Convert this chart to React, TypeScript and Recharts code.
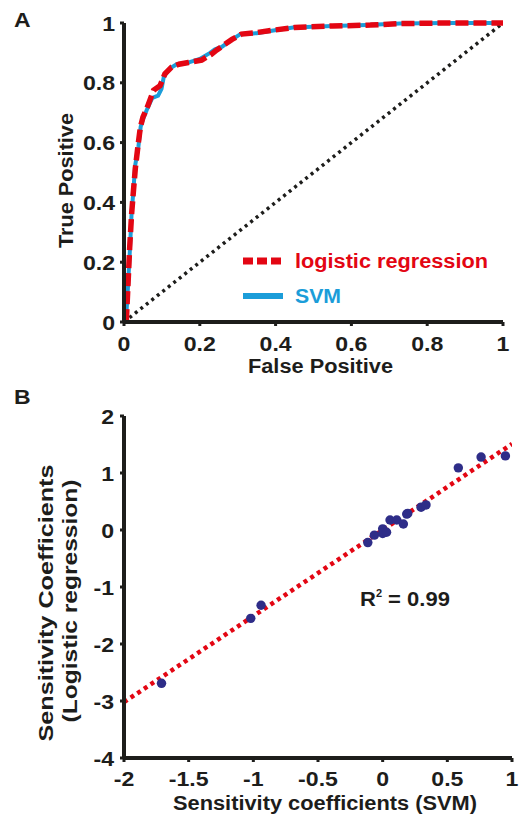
import React from 'react';
import {
  LineChart,
  Line,
  ComposedChart,
  Scatter,
  XAxis,
  YAxis,
  ZAxis,
  Legend,
  Label,
} from 'recharts';

// ROC curves (panel A)
const svmFpr = [0.005, 0.01, 0.016, 0.02, 0.025, 0.029, 0.038, 0.044, 0.051, 0.06, 0.075, 0.09, 0.099, 0.105, 0.121, 0.139, 0.165, 0.2, 0.227, 0.24, 0.258, 0.28, 0.306, 0.35, 0.394, 0.446, 0.55, 0.64, 0.728, 0.85, 1.0];
const svmTpr = [0, 0.107, 0.252, 0.363, 0.441, 0.52, 0.586, 0.653, 0.681, 0.709, 0.75, 0.757, 0.78, 0.82, 0.848, 0.862, 0.866, 0.88, 0.9, 0.912, 0.92, 0.94, 0.962, 0.966, 0.975, 0.985, 0.99, 0.993, 0.998, 1.0, 1.0];
const lrFpr = [0.006, 0.01, 0.015, 0.02, 0.025, 0.03, 0.037, 0.043, 0.05, 0.062, 0.078, 0.095, 0.108, 0.125, 0.145, 0.17, 0.205, 0.23, 0.245, 0.262, 0.285, 0.31, 0.35, 0.4, 0.45, 0.55, 0.65, 0.73, 0.85, 1.0];
const lrTpr = [0, 0.11, 0.25, 0.36, 0.44, 0.515, 0.59, 0.65, 0.685, 0.72, 0.775, 0.79, 0.83, 0.852, 0.862, 0.868, 0.876, 0.895, 0.91, 0.925, 0.945, 0.963, 0.968, 0.977, 0.985, 0.99, 0.993, 0.998, 1.0, 1.0];
const chanceFpr = [0, 1];
const chanceTpr = [0, 1];
const rocTicks = [0, 0.2, 0.4, 0.6, 0.8, 1];

// sensitivity coefficients (panel B)
const svmCoef = [-1.71, -1.02, -0.94, -0.115, -0.064, 0.0, 0.0, 0.03, 0.057, 0.109, 0.16, 0.186, 0.194, 0.297, 0.335, 0.585, 0.761, 0.949];
const lrCoef = [-2.69, -1.55, -1.32, -0.22, -0.09, 0.02, -0.06, -0.04, 0.175, 0.175, 0.105, 0.28, 0.29, 0.4, 0.44, 1.09, 1.28, 1.3];
const fitX = [-2, 1];
const fitY = [-3.02, 1.51];
const coefXTicks = [-2, -1.5, -1, -0.5, 0, 0.5, 1];
const coefYTicks = [-4, -3, -2, -1, 0, 1, 2];

const RED = '#e30613';
const BLUE = '#1b9dd9';
const NAVY = '#2e2d88';
const INK = '#1d1d1b';
const FONT = '"Liberation Sans", Arial, sans-serif';

const toPoints = (xs: number[], ys: number[], kx: string, ky: string) =>
  xs.map((v, i) => ({ [kx]: v, [ky]: ys[i] }));

const svmRoc = toPoints(svmFpr, svmTpr, 'fpr', 'tpr');
const lrRoc = toPoints(lrFpr, lrTpr, 'fpr', 'tpr');
const chance = toPoints(chanceFpr, chanceTpr, 'fpr', 'tpr');
const coefPoints = toPoints(svmCoef, lrCoef, 'x', 'y');
const fitLine = toPoints(fitX, fitY, 'x', 'y');

const legendItems = [
  { name: 'logistic regression', color: RED, dash: '10 4', width: 7, len: 193 },
  { name: 'SVM', color: BLUE, dash: undefined, width: 6, len: 46 },
];

const AxisTick = ({ x, y, payload, side }: any) => {
  const isX = side === 'x';
  return (
    <g transform={`translate(${x},${y})`}>
      <text
        transform="scale(1.1,1)"
        textAnchor={isX ? 'middle' : 'end'}
        dy={isX ? '0.71em' : '0.36em'}
        fontSize={21}
        fontWeight="bold"
        fontFamily={FONT}
        fill={INK}
      >
        {payload.value}
      </text>
    </g>
  );
};

// axis title drawn with a fixed length, the figure's type is wider than Arial
const AxisTitle = ({ viewBox, lines, vertical, dx = 0, dy = 0 }: any) => {
  const vb = viewBox || { x: 0, y: 0, width: 0, height: 0 };
  return (
    <g>
      {lines.map((ln: any, i: number) => {
        if (vertical) {
          const cx = vb.x + ln.off;
          const cy = vb.y + vb.height / 2 + dy + (ln.shift || 0);
          return (
            <text key={i} x={cx} y={cy} transform={`rotate(-90 ${cx} ${cy})`} textAnchor="middle"
              fontSize={21} fontWeight="bold" fontFamily={FONT} fill={INK}
              textLength={ln.len} lengthAdjust="spacingAndGlyphs">
              {ln.text}
            </text>
          );
        }
        const cx = vb.x + vb.width / 2 + dx;
        const cy = vb.y + ln.off;
        return (
          <text key={i} x={cx} y={cy} textAnchor="middle" fontSize={20} fontWeight="bold"
            fontFamily={FONT} fill={INK} textLength={ln.len} lengthAdjust="spacingAndGlyphs">
            {ln.text}
          </text>
        );
      })}
    </g>
  );
};

const RocLegend = () => (
  <svg width={270} height={70}>
    {legendItems.map((it, i) => (
      <g key={it.name} transform={`translate(0, ${16 + i * 35})`}>
        <line x1={3} x2={43} y1={0} y2={0} stroke={it.color} strokeWidth={it.width} strokeDasharray={it.dash} />
        <text x={55} y={7} fontSize={20} fontWeight="bold" fontFamily={FONT} fill={it.color}
          textLength={it.len} lengthAdjust="spacingAndGlyphs">
          {it.name}
        </text>
      </g>
    ))}
  </svg>
);

const axisLine = { stroke: INK, strokeWidth: 4 };
const tickLine = { stroke: INK, strokeWidth: 3 };

export default function App() {
  return (
    <div style={{ position: 'absolute', left: 0, top: 0, width: 528, height: 817, background: '#fff' }}>
      <div style={{ position: 'absolute', left: 0, top: 0 }}>
        <LineChart width={528} height={385} margin={{ top: 23, right: 25, bottom: 8, left: 0 }}>
          <XAxis type="number" dataKey="fpr" domain={[0, 1]} ticks={rocTicks} height={55}
            axisLine={axisLine} tickLine={tickLine} tickSize={4} tickMargin={10}
            tick={(p: any) => <AxisTick {...p} side="x" />}>
            <Label content={(p: any) => <AxisTitle {...p} dx={7} lines={[{ text: 'False Positive', off: 51, len: 145 }]} />} />
          </XAxis>
          <YAxis type="number" dataKey="tpr" domain={[0, 1]} ticks={rocTicks} width={124}
            axisLine={axisLine} tickLine={tickLine} tickSize={4} tickMargin={5}
            tick={(p: any) => <AxisTick {...p} side="y" />}>
            <Label content={(p: any) => <AxisTitle {...p} vertical dy={8} lines={[{ text: 'True Positive', off: 73, len: 135 }]} />} />
          </YAxis>
          <Legend layout="horizontal" verticalAlign="middle" align="center" content={() => <RocLegend />}
            wrapperStyle={{ left: 240, top: 245, width: 270, height: 70 }} />
          <Line data={chance} dataKey="tpr" name="chance" legendType="none" stroke={INK} strokeWidth={3.5}
            strokeDasharray="3 4" dot={false} isAnimationActive={false} />
          <Line data={svmRoc} dataKey="tpr" name="SVM" stroke={BLUE} strokeWidth={4}
            dot={false} isAnimationActive={false} />
          <Line data={lrRoc} dataKey="tpr" name="logistic regression" stroke={RED} strokeWidth={5.5}
            strokeDasharray="13 5" dot={false} isAnimationActive={false} />
        </LineChart>
      </div>

      <div style={{ position: 'absolute', left: 0, top: 390 }}>
        <ComposedChart width={528} height={427} margin={{ top: 26, right: 16, bottom: 4, left: 0 }}>
          <XAxis type="number" dataKey="x" domain={[-2, 1]} ticks={coefXTicks} height={55} allowDataOverflow
            axisLine={axisLine} tickLine={tickLine} tickSize={4} tickMargin={9}
            tick={(p: any) => <AxisTick {...p} side="x" />}>
            <Label content={(p: any) => <AxisTitle {...p} dx={7} lines={[{ text: 'Sensitivity coefficients (SVM)', off: 52, len: 304 }]} />} />
          </XAxis>
          <YAxis type="number" dataKey="y" domain={[-4, 2]} ticks={coefYTicks} width={124} allowDataOverflow
            axisLine={axisLine} tickLine={tickLine} tickSize={4} tickMargin={6}
            tick={(p: any) => <AxisTick {...p} side="y" />}>
            <Label content={(p: any) => (
              <AxisTitle {...p} vertical dy={15} lines={[
                { text: 'Sensitivity Coefficients', off: 53, len: 277, shift: 1 },
                { text: '(Logistic regression)', off: 77, len: 243, shift: -1 },
              ]} />
            )} />
          </YAxis>
          <ZAxis range={[70, 70]} />
          <Line data={fitLine} dataKey="y" stroke={RED} strokeWidth={4.5} strokeDasharray="4 4"
            dot={false} isAnimationActive={false} legendType="none" />
          <Scatter data={coefPoints} fill={NAVY} isAnimationActive={false} />
        </ComposedChart>
      </div>

      <svg width={528} height={817} style={{ position: 'absolute', left: 0, top: 0, pointerEvents: 'none' }}>
        <text transform="translate(14,27) scale(1.15,1)" fontSize={20} fontWeight="bold" fontFamily={FONT} fill={INK}>A</text>
        <text transform="translate(14,404) scale(1.15,1)" fontSize={20} fontWeight="bold" fontFamily={FONT} fill={INK}>B</text>
        <text transform="translate(360,606) scale(1.1,1)" fontSize={20} fontWeight="bold" fontFamily={FONT} fill={INK}>
          R<tspan fontSize={10} dy={-9}>2</tspan><tspan dy={9}> = 0.99</tspan>
        </text>
      </svg>
    </div>
  );
}
